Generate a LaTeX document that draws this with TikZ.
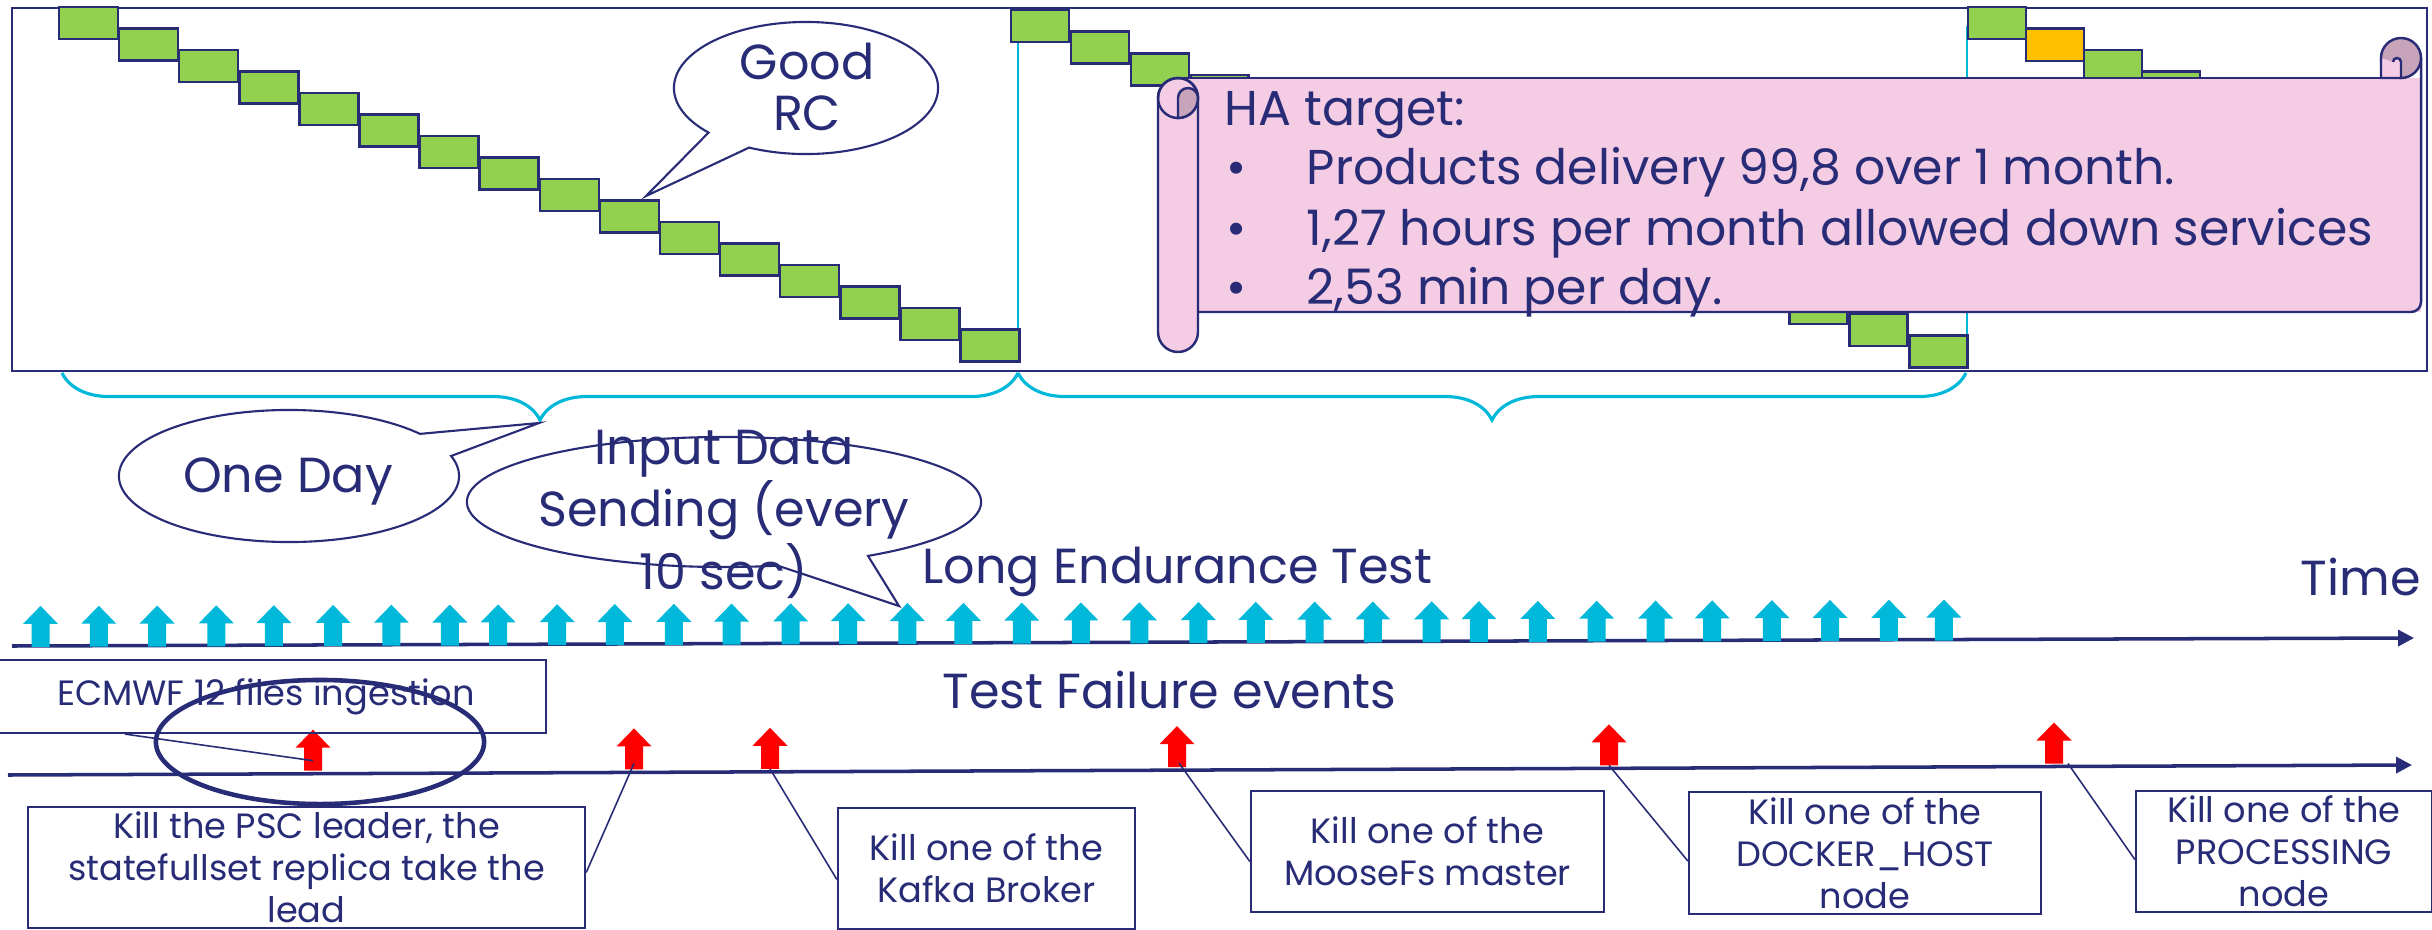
\documentclass[tikz,border=0pt]{standalone}
\usepackage{fontspec}
\setmainfont{Poppins}
\usetikzlibrary{arrows.meta,calc,decorations.pathreplacing,shapes.callouts,shapes.geometric}

\definecolor{navy}{RGB}{40,44,118}
\definecolor{skyc}{RGB}{0,184,217}
\definecolor{leafg}{RGB}{146,208,80}
\definecolor{ambr}{RGB}{255,192,0}
\definecolor{scrollpink}{RGB}{244,204,228}
\definecolor{scrollmauve}{RGB}{200,164,186}

\tikzset{
	rcbox/.style={draw=navy, line width=0.7pt, fill=leafg},
	bubble/.style={ellipse callout, draw=navy, line width=0.6pt, fill=white, callout pointer arc=22, inner sep=0pt},
	bigtxt/.style={text=navy, font=\fontsize{14}{14.5}\selectfont, inner sep=0pt},
	hatxt/.style={text=navy, font=\fontsize{13.9}{17}\selectfont, inner sep=0pt, anchor=base west},
	boxtxt/.style={text=navy, font=\fontsize{10}{11.95}\selectfont, align=center, inner sep=0pt},
	killbox/.style={draw=navy, line width=0.6pt, inner sep=0pt},
	timeaxis/.style={draw=navy, line width=1pt, -{Triangle[length=4.5pt,width=4.5pt]}},
	killline/.style={draw=navy, line width=0.45pt},
	daybrace/.style={draw=skyc, line width=0.9pt, decorate, decoration={brace, mirror, amplitude=0.47cm}},
	scrollline/.style={draw=navy, line width=0.7pt}
}

\begin{document}
\begin{tikzpicture}[x=0.01cm, y=-0.01cm]
	\newcommand{\blockup}[4]{ % #1: x, #2: base y, #3: colour, #4: name
		\fill[#3] (#1-9,#2) -- (#1-9,#2-23) -- (#1-17.5,#2-23) -- (#1,#2-41) -- (#1+17.5,#2-23) -- (#1+9,#2-23) -- (#1+9,#2) -- cycle;
		\coordinate (#4) at (#1,#2);
	}
	
	\fill[white] (0,0) rectangle (2432,930);
	\useasboundingbox (0,0) rectangle (2432,930);
	
	%one day per column
	\draw[navy, line width=0.6pt] (12,8) rectangle (2427,371);
	\draw[skyc, line width=0.5pt] (1018,26) -- (1018,362);
	\draw[skyc, line width=0.5pt] (1967,26) -- (1967,362);
	
	%release candidates
	\foreach \i in {0,...,15} {
		\draw[rcbox] (59+60.1*\i,7+21.5*\i) rectangle ++(59,32);
		\draw[rcbox] (1011+59.9*\i,10+21.7*\i) rectangle ++(58,32);
	}
	\foreach \i in {0,...,6}
		\draw[rcbox] (1968+58*\i,7+21.5*\i) rectangle ++(58,32);
	\draw[rcbox, fill=ambr] (2026,29) rectangle ++(58,32);
	
	\node[bubble, minimum width=2.64cm, minimum height=1.32cm, callout absolute pointer={(646,196)}] (goodrc) at (806,88) {};
	\node[bigtxt, align=center] (goodtxt) at (807,87) {Good\\RC};
	
	%HA target scroll
	\fill[scrollpink] (1178,78) rectangle (2421,312);
	\draw[scrollline] (1178,78) -- (2381,78);
	\draw[scrollline] (2421,58) -- (2421,302) arc[start angle=0, end angle=90, radius=10] -- (1198,312);
	\filldraw[scrollline, fill=scrollmauve] (2401,58) circle[radius=20];
	\filldraw[scrollline, fill=scrollpink] (2381,58) -- (2381,78) -- (2401,78) -- (2401,62) arc[start angle=0, end angle=-180, radius=4];
	\filldraw[scrollline, fill=scrollpink] (1158,98) arc[start angle=180, end angle=360, radius=20] -- (1198,332) arc[start angle=0, end angle=180, radius=20] -- cycle;
	\draw[scrollline] (1178,98) circle[radius=20];
	\filldraw[scrollline, fill=scrollmauve] (1178,98) arc[start angle=180, end angle=360, radius=10] arc[start angle=0, end angle=90, radius=20] -- cycle;
	
	\node[hatxt] (hatitle) at (1224,125) {HA target:};
	\node[hatxt] (ha1) at (1226,184) {\makebox[0.8cm][l]{\textbullet}Products delivery 99,8 over 1 month.};
	\node[hatxt] (ha2) at (1226,245) {\makebox[0.8cm][l]{\textbullet}1,27 hours per month allowed down services};
	\node[hatxt] (ha3) at (1226,304) {\makebox[0.8cm][l]{\textbullet}2,53 min per day.};
	
	%day braces
	\coordinate (d0) at (62,373);
	\coordinate (d1) at (1018,373);
	\coordinate (d2) at (1966,373);
	\draw[daybrace] (d0) -- (d1);
	\draw[daybrace] (d1) -- (d2);
	
	\node[bubble, minimum width=3.40cm, minimum height=1.32cm, callout absolute pointer={(539,423)}] (oneday) at (289,476) {};
	\node[bigtxt, anchor=base] (onedaytxt) at (288,492) {One Day};
	\node[bubble, minimum width=5.14cm, minimum height=1.30cm, callout absolute pointer={(899,606)}] (inputdata) at (724,502) {};
	\node[bigtxt, align=center] (inputtxt) at (724,514) {Input Data\\Sending (every\\10 sec)};
	
	\node[bigtxt, anchor=base west] (endurance) at (922,583) {Long Endurance Test};
	\node[bigtxt, anchor=base west] (time) at (2300,595) {Time};
	\node[bigtxt, anchor=base west] (failures) at (942,708) {Test Failure events};
	
	%time axes
	\coordinate (a1s) at (12,646);
	\coordinate (a1e) at (2414,638);
	\coordinate (a2s) at (8,775);
	\coordinate (a2e) at (2412,765);
	\draw[timeaxis] (a1s) -- (a1e);
	\draw[timeaxis] (a2s) -- (a2e);
	
	%input data every 10 sec
	\foreach \x [count=\n] in {40.5,98.8,157.2,216.3,273.9,333.1,391.4,449.8,498.1,557.2,614.8,673.9,731.5,790.7,848.2,907.4,963.4,1021.8,1080.9,1139.3,1198.4,1255.8,1314.7,1372.8,1431.7,1478.9,1537.8,1596.7,1655.6,1712.2,1771.9,1830,1888.9,1943.9} {
		\pgfmathsetmacro{\yb}{647-8*(\x-12)/2402}
		\blockup{\x}{\yb}{skyc}{in\n}
	}
	
	%failure events
	\blockup{313}{770.7}{red}{r1}
	\blockup{634}{769.4}{red}{r2}
	\blockup{770}{768.8}{red}{r3}
	\blockup{1177}{767.1}{red}{r4}
	\blockup{1609}{765.3}{red}{r5}
	\blockup{2054}{763.5}{red}{r6}
	
	\node[killbox, minimum width=5.60cm, minimum height=0.73cm] (ecmwf) at (266,696.5) {};
	\node[boxtxt] at (ecmwf) {ECMWF 12 files ingestion};
	\node[killbox, minimum width=5.57cm, minimum height=1.21cm] (psc) at (306.5,867.5) {};
	\node[boxtxt] at (psc) {Kill the PSC leader, the\\statefullset replica take the\\lead};
	\node[killbox, minimum width=2.97cm, minimum height=1.21cm] (kafka) at (986.5,868.5) {};
	\node[boxtxt] at (kafka) {Kill one of the\\Kafka Broker};
	\node[killbox, minimum width=3.53cm, minimum height=1.21cm] (moose) at (1427.5,851.5) {};
	\node[boxtxt] at (moose) {Kill one of the\\MooseFs master};
	\node[killbox, minimum width=3.52cm, minimum height=1.22cm] (docker) at (1865,853) {};
	\node[boxtxt] at (docker) {Kill one of the\\DOCKER\_HOST\\node};
	\node[killbox, minimum width=2.96cm, minimum height=1.21cm] (processing) at (2284,851.5) {};
	\node[boxtxt] at (processing) {Kill one of the\\PROCESSING\\node};
	
	\draw[killline] ([xshift=-1.41cm]ecmwf.south) -- ([yshift=0.1cm]r1);
	\draw[killline] ([yshift=-0.05cm]psc.east) -- ([yshift=0.06cm]r2);
	\draw[killline] (r3) -- ([yshift=-0.11cm]kafka.west);
	\draw[killline] ([xshift=0.02cm,yshift=0.04cm]r4) -- ([yshift=-0.1cm]moose.west);
	\draw[killline] (r5) -- ([yshift=-0.08cm]docker.west);
	\draw[killline] ([xshift=0.14cm]r6) -- ([yshift=-0.08cm]processing.west);
	
	\node[draw=navy, line width=1.3pt, ellipse, minimum width=3.28cm, minimum height=1.24cm] (focus) at (320,742) {};
	
\end{tikzpicture}
\end{document}
